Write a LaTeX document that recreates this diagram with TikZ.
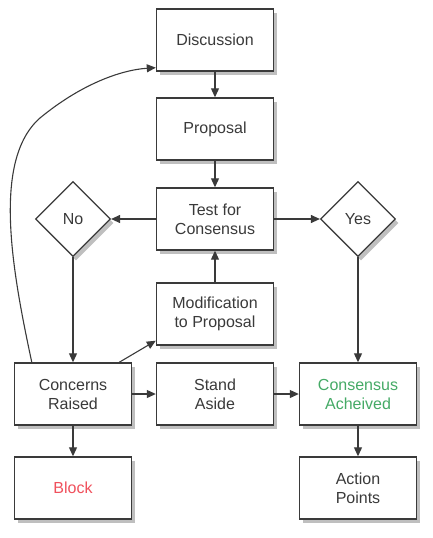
\documentclass[tikz,border=0pt]{standalone}
\usepackage{fontspec}
\setmainfont{Liberation Sans}
\usetikzlibrary{shapes.geometric,shadows,arrows.meta}
\definecolor{ink}{HTML}{3A3A3A}
\definecolor{blockred}{HTML}{F0505C}
\definecolor{okgreen}{HTML}{45AA66}
\begin{document}
\begin{tikzpicture}[
		x=1pt, y=-1pt,
		every node/.style={font=\fontsize{16}{19}\selectfont, text=ink},
		box/.style={rectangle, draw=ink, line width=1.4pt, fill=white, minimum width=117pt, minimum height=62pt, align=center, inner sep=2pt,
			drop shadow={shadow xshift=3pt, shadow yshift=-4pt, opacity=0.5, fill=gray}},
		decision/.style={diamond, draw=ink, line width=1.2pt, fill=white, minimum width=75pt, minimum height=75pt, inner sep=0pt,
			drop shadow={shadow xshift=3pt, shadow yshift=-4pt, opacity=0.5, fill=gray}},
		arrow/.style={draw=ink, line width=1.1pt, -{Triangle[length=9pt,width=8pt]}}
		]
		\useasboundingbox (0,0) rectangle (432,538);
		
		% Main column of boxes
		\foreach \name/\x/\y/\label in {discussion/215/40/Discussion, proposal/215/129/Proposal, test/215/219/{Test for\\Consensus}, modif/215/314/{Modification\\to Proposal}, concerns/73/394/{Concerns\\Raised}, stand/215/394/{Stand\\Aside}, action/358/488/{Action\\Points}}
		\node[box] (\name) at (\x,\y) {\label};
		
		% Outcome boxes with coloured text
		\node[box, text=okgreen] (achieved) at (358,394) {Consensus\\Acheived};
		\node[box, text=blockred] (block) at (73,488) {Block};
		
		% Decisions
		\node[decision] (no) at (73,219) {No};
		\node[decision] (yes) at (358,219) {Yes};
		
		% Arrows
		\draw[arrow] (discussion) -- (proposal);
		\draw[arrow] (proposal) -- (test);
		\draw[arrow] (test) -- (no);
		\draw[arrow] (test) -- (yes);
		\draw[arrow] (modif) -- (test);
		\draw[arrow] (no) -- (concerns);
		\draw[arrow] (yes) -- (achieved);
		\draw[arrow] (concerns) -- (stand);
		\draw[arrow] (stand) -- (achieved);
		\draw[arrow] (concerns) -- (block);
		\draw[arrow] (achieved) -- (action);
		\draw[arrow] ([xshift=-13pt]concerns.north east) -- ([yshift=5pt]modif.south west);
		
		% Loop back to discussion
		\draw[arrow] ([xshift=18pt]concerns.north west) .. controls (12,270) and (-8,160) .. (40,118) .. controls (80,85) and (120,70) .. ([yshift=4pt]discussion.south west);
		
	\end{tikzpicture}
\end{document}
